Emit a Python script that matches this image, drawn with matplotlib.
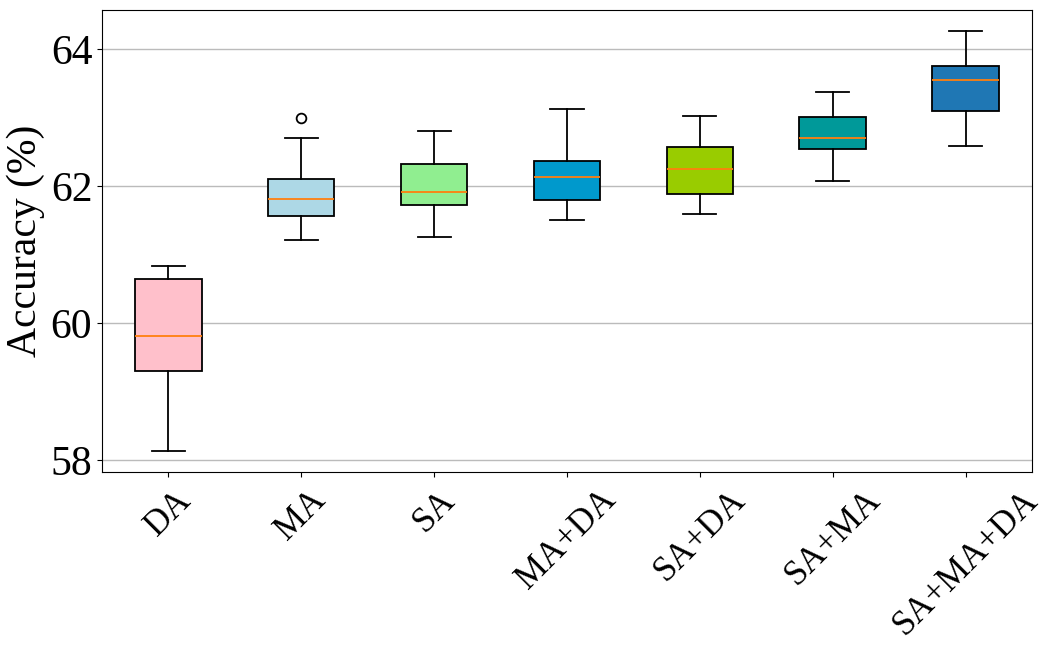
import matplotlib
matplotlib.use("Agg")
import matplotlib.pyplot as plt

plt.rcParams['font.family'] = ['Liberation Serif', 'DejaVu Serif']

labels = ["DA", "MA", "SA", "MA+DA", "SA+DA", "SA+MA", "SA+MA+DA"]
whislo = [58.13, 61.21, 61.26, 61.51, 61.60, 62.08, 62.58]
q1 = [59.30, 61.57, 61.72, 61.80, 61.89, 62.54, 63.09]
med = [59.81, 61.81, 61.91, 62.14, 62.25, 62.71, 63.55]
q3 = [60.64, 62.10, 62.33, 62.37, 62.57, 63.01, 63.75]
whishi = [60.83, 62.71, 62.81, 63.12, 63.03, 63.37, 64.27]
fliers = [[], [63.00], [], [], [], [], []]
colors = ["pink", "lightblue", "lightgreen", "#0099CC", "#99CC00", "#009999", "#1F77B4"]

stats = []
for i in range(len(labels)):
    stats.append({"label": labels[i], "whislo": whislo[i], "q1": q1[i], "med": med[i],
                  "q3": q3[i], "whishi": whishi[i], "fliers": fliers[i]})

fig = plt.figure(figsize=(10.57, 6.55), dpi=100)
ax = fig.add_axes([0.0965, 0.2794, 0.8798, 0.7053])
bp = ax.bxp(stats, patch_artist=True, widths=0.5,
            boxprops=dict(linewidth=1.3),
            whiskerprops=dict(linewidth=1.3),
            capprops=dict(linewidth=1.3),
            medianprops=dict(color="C1", linewidth=1.3),
            flierprops=dict(marker="o", markerfacecolor="none", markersize=7,
                            markeredgewidth=1.3))
for patch, c in zip(bp["boxes"], colors):
    patch.set_facecolor(c)

ax.set_ylim(57.83, 64.57)
ax.set_yticks([58, 60, 62, 64])
ax.yaxis.grid(True, color="#bbbbbb", linewidth=1.0)
ax.set_axisbelow(True)
ax.set_ylabel("Accuracy (%)", fontsize=30)
ax.tick_params(axis="y", labelsize=30)
ax.tick_params(axis="x", labelsize=25, pad=5)
plt.setp(ax.get_xticklabels(), rotation=45)

fig.savefig("out.png", dpi=100)
